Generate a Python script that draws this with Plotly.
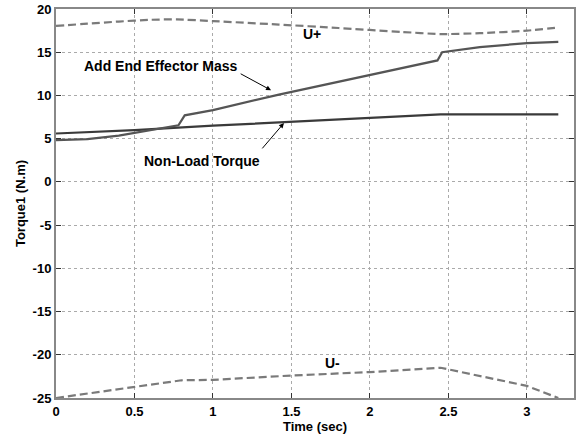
import plotly.graph_objects as go

# U+ limit
up_t = [0.0, 0.2, 0.4, 0.6, 0.77, 1.0, 1.42, 1.8, 2.2, 2.45, 2.7, 3.0, 3.2]
up_v = [18.05, 18.3, 18.55, 18.75, 18.8, 18.6, 18.2, 17.8, 17.35, 17.1, 17.2, 17.5, 17.85]

# U- limit
um_t = [0.0, 0.5, 0.8, 1.0, 1.5, 2.0, 2.45, 3.0, 3.2]
um_v = [-25.0, -23.7, -22.95, -22.9, -22.4, -22.0, -21.5, -23.6, -25.0]

# Non-load torque
nl_t = [0.0, 0.5, 1.0, 1.5, 2.0, 2.45, 2.8, 3.2]
nl_v = [5.6, 5.98, 6.5, 6.95, 7.4, 7.8, 7.8, 7.8]

# Add end effector mass
em_t = [0.0, 0.2, 0.4, 0.6, 0.78, 0.82, 1.0, 1.42, 2.0, 2.43, 2.46, 2.7, 3.0, 3.2]
em_v = [4.83, 4.95, 5.35, 5.95, 6.55, 7.7, 8.3, 10.1, 12.4, 14.05, 15.0, 15.6, 16.05, 16.2]

annot_text = ["Add End Effector Mass", "Non-Load Torque", "U+", "U-"]

dash_col = "#7a7a7a"
line_col = "#555555"

fig = go.Figure()
fig.add_trace(go.Scatter(x=up_t, y=up_v, mode="lines", line=dict(color=dash_col, width=2.2, dash="8px,4px", shape="spline", smoothing=0.6)))
fig.add_trace(go.Scatter(x=um_t, y=um_v, mode="lines", line=dict(color=dash_col, width=2.2, dash="8px,4px")))
fig.add_trace(go.Scatter(x=nl_t, y=nl_v, mode="lines", line=dict(color="#3a3a3a", width=2.2)))
fig.add_trace(go.Scatter(x=em_t, y=em_v, mode="lines", line=dict(color=line_col, width=2.2)))

fnt = dict(family="Liberation Sans, Arial, sans-serif", size=14, color="black")

fig.add_annotation(x=1.37, y=10.6, ax=1.167, ay=12.6, axref="x", ayref="y", text="",
                   showarrow=True, arrowhead=2, arrowsize=1, arrowwidth=1, arrowcolor="black")
fig.add_annotation(x=0.666, y=13.45, text="<b>" + annot_text[0] + "</b>", showarrow=False, font=fnt)
fig.add_annotation(x=1.452, y=6.8, ax=1.306, ay=3.7, axref="x", ayref="y", text="",
                   showarrow=True, arrowhead=2, arrowsize=1, arrowwidth=1, arrowcolor="black")
fig.add_annotation(x=0.93, y=2.4, text="<b>" + annot_text[1] + "</b>", showarrow=False, font=fnt)
fig.add_annotation(x=1.63, y=17.1, text="<b>" + annot_text[2] + "</b>", showarrow=False, font=fnt)
fig.add_annotation(x=1.76, y=-20.9, text="<b>" + annot_text[3] + "</b>", showarrow=False, font=fnt)

axfont = dict(family="Liberation Sans, Arial, sans-serif", size=13, color="black")
fig.update_layout(
    width=576, height=440,
    margin=dict(l=56, r=0, t=9, b=42),
    plot_bgcolor="white", paper_bgcolor="white",
    showlegend=False,
    font=axfont,
)
fig.update_xaxes(
    range=[0, 3.3], tickvals=[0, 0.5, 1, 1.5, 2, 2.5, 3], ticktext=["<b>0</b>", "<b>0.5</b>", "<b>1</b>", "<b>1.5</b>", "<b>2</b>", "<b>2.5</b>", "<b>3</b>"],
    showgrid=True, gridcolor="#aaaaaa", griddash="dot", gridwidth=1,
    showline=True, linecolor="#888888", linewidth=2, mirror="ticks",
    ticks="inside", ticklen=5, tickcolor="#333333",
    zeroline=False,
    title=dict(text="<b>Time (sec)</b>", font=dict(size=13), standoff=2),
)
fig.update_yaxes(
    range=[-25, 20], tickvals=list(range(-25, 21, 5)), ticktext=["<b>%d</b>" % v for v in range(-25, 21, 5)],
    showgrid=True, gridcolor="#aaaaaa", griddash="dot", gridwidth=1,
    showline=True, linecolor="#888888", linewidth=2, mirror="ticks",
    ticks="inside", ticklen=5, tickcolor="#333333",
    zeroline=False,
    title=dict(text="<b>Torque1 (N.m)</b>", font=dict(size=13), standoff=4),
)
fig.write_html("out.html", config={"displayModeBar": False},
               post_script="document.body.style.margin='0';document.body.style.overflow='hidden';")
